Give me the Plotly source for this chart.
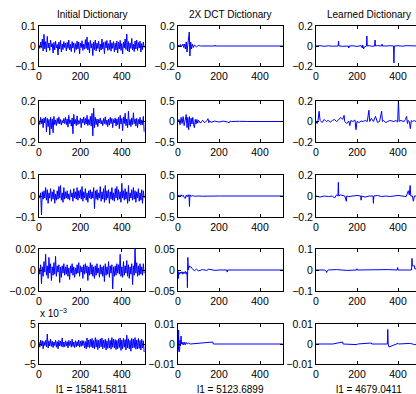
import plotly.graph_objects as go

# ---------------- data ----------------
col_titles = ["Initial Dictionary", "2X DCT Dictionary", "Learned Dictionary"]
l1_labels = ["l1 = 15841.5811", "l1 = 5123.6899", "l1 = 4679.0411"]
x_ticks = [0, 200, 400]
x_max = 512

# y half-ranges per row (col1, col2, col3)
y_lims = [
    [0.1, 0.2, 0.2],
    [0.2, 0.5, 0.2],
    [0.1, 0.5, 0.2],
    [0.02, 0.05, 0.1],
    [5, 0.01, 0.01],
]

# Initial dictionary atoms, sampled every 4 samples (x = 0, 4, ..., 508)
init_x = list(range(0, 512, 4))
init_r1 = [.005,-.012,.020,-.008,.035,-.025,.058,-.015,.022,-.030,.048,-.010,.015,-.022,.030,-.005,
           .012,-.035,.018,-.020,.025,-.010,.008,-.045,.020,-.015,.028,-.030,.010,-.018,.022,-.008,
           .015,-.025,.018,-.012,.030,-.020,.008,-.028,.022,-.010,.016,-.032,.012,-.018,.025,-.014,
           .020,-.040,.014,-.008,.026,-.022,.010,-.016,.032,-.012,.045,-.020,.018,-.035,.028,-.010,
           .012,-.048,.020,-.018,.030,-.025,.015,-.012,.024,-.030,.010,-.020,.035,-.015,.018,-.038,
           .022,-.010,.028,-.022,.012,-.018,.030,-.026,.016,-.012,.022,-.030,.014,-.020,.025,-.035,
           .018,-.015,.028,-.022,.012,-.040,.020,-.010,.035,-.018,.060,-.025,.022,-.030,.015,-.012,
           .038,-.020,.010,-.028,.025,-.015,.030,-.022,.018,-.010,.024,-.030,.012,-.018,.020,-.008]
init_r2 = [.010,-.030,.040,-.020,.025,-.060,.035,-.015,.045,-.100,.030,-.050,.020,-.130,.040,-.070,
           .025,-.110,.050,-.030,.015,-.040,.030,-.020,.045,-.025,.020,-.035,.010,-.015,.030,-.020,
           .040,-.030,.025,-.055,.060,-.020,.015,-.045,.035,-.120,.070,-.025,.020,-.040,.055,-.030,
           .010,-.020,.035,-.060,.025,-.015,.045,-.035,.030,-.025,.060,-.040,.020,-.030,.050,-.045,
           .080,-.140,.130,-.060,.040,-.030,.025,-.050,.020,-.015,.035,-.025,.010,-.040,.030,-.020,
           .045,-.030,.015,-.050,.025,-.035,.040,-.020,.030,-.060,.020,-.015,.035,-.045,.025,-.030,
           .040,-.070,.060,-.025,.030,-.090,.045,-.020,.080,-.040,.025,-.060,.100,-.035,.020,-.050,
           .035,-.030,.085,-.020,.025,-.045,.030,-.060,.020,-.025,.040,-.035,.015,-.030,.050,-.100]
init_r3 = [.005,-.010,.015,-.090,.020,-.015,.025,-.010,.040,-.020,.030,-.035,.015,-.010,.035,-.025,
           .020,-.015,.030,-.035,.010,-.020,.025,-.015,.045,-.010,.050,-.020,.015,-.030,.040,-.015,
           .020,-.010,.025,-.015,.010,-.020,.030,-.005,.015,-.025,.035,-.010,.020,-.015,.040,-.020,
           .025,-.010,.030,-.015,.045,-.025,.020,-.010,.035,-.020,.015,-.030,.025,-.010,.030,-.015,
           .020,-.010,.040,-.060,.025,-.015,.030,-.020,.015,-.010,.045,-.025,.020,-.015,.035,-.030,
           .050,-.020,.025,-.010,.030,-.035,.020,-.015,.040,-.020,.015,-.025,.035,-.010,.045,-.020,
           .030,-.015,.020,-.030,.060,-.010,.025,-.020,.035,-.015,.020,-.035,.050,-.025,.015,-.010,
           .030,-.020,.040,-.015,.025,-.030,.020,-.010,.035,-.025,.015,-.020,.030,-.035,.025,-.010]
init_r4 = [.0020,-.0040,.0050,-.0130,.0030,-.0060,.0080,-.0020,.0150,-.0050,.0040,-.0080,.0120,-.0030,.0060,-.0100,
           .0030,-.0050,.0070,-.0040,.0130,-.0060,.0040,-.0020,.0050,-.0120,.0030,-.0070,.0040,-.0030,.0060,-.0050,
           .0030,-.0040,.0050,-.0060,.0020,-.0090,.0040,-.0030,.0060,-.0050,.0030,-.0070,.0020,-.0040,.0050,-.0030,
           .0070,-.0060,.0040,-.0020,.0030,-.0080,.0050,-.0040,.0060,-.0030,.0040,-.0100,.0030,-.0050,.0070,-.0040,
           .0050,-.0060,.0030,-.0080,.0040,-.0050,.0060,-.0030,.0020,-.0070,.0050,-.0040,.0030,-.0060,.0040,-.0110,
           .0060,-.0050,.0030,-.0040,.0080,-.0070,.0040,-.0030,.0050,-.0180,.0030,-.0060,.0040,-.0050,.0060,-.0030,
           .0050,-.0040,.0150,-.0060,.0030,-.0070,.0080,-.0050,.0040,-.0030,.0090,-.0060,.0050,-.0080,.0030,-.0040,
           .0060,-.0140,.0040,-.0050,.0200,-.0030,.0070,-.0060,.0040,-.0050,.0060,-.0040,.0030,-.0050,.0060,-.0030]
# row 5, column 1 is shown in units of 1e-3
init_r5 = [0.5,-0.8,1.0,-0.5,0.8,-1.2,0.6,-0.4,0.9,-0.7,2.5,-1.0,0.8,-0.5,1.2,-0.6,
           0.7,-0.9,0.5,-0.4,1.0,-0.8,0.6,-1.2,0.9,-0.5,0.7,-0.6,1.5,-0.8,0.5,-0.7,
           0.8,-0.5,0.6,-1.0,0.9,-0.4,0.7,-0.8,1.2,-0.6,0.5,-0.9,0.8,-0.7,0.6,-0.5,
           1.0,-0.8,0.7,-0.6,0.9,-0.4,0.8,-1.0,0.6,-1.2,1.5,-0.8,1.0,-0.9,1.2,-0.7,
           1.4,-1.0,0.9,-1.2,1.6,-0.8,1.1,-1.4,0.9,-1.0,1.3,-0.7,1.5,-1.2,1.0,-0.9,
           1.2,-1.5,0.8,-1.1,1.4,-1.0,0.9,-1.3,1.6,-0.8,1.2,-1.0,1.1,-1.4,0.9,-1.2,
           1.3,-0.9,1.5,-1.6,1.0,-1.2,1.4,-0.8,1.1,-1.5,2.2,-1.0,1.3,-1.2,0.9,-1.8,
           1.4,-1.0,1.2,-0.9,1.6,-1.3,1.0,-1.2,1.4,-1.1,0.9,-1.5,1.2,-1.0,0.8,-2.0]

# 2X DCT dictionary atoms (sample index, value)
dct_r1_x = [0,4,8,12,16,20,24,28,32,36,40,44,48,52,55,58,62,66,70,75,80,90,100,110,178,180,182,511]
dct_r1_y = [0,.01,-.01,.015,-.01,.01,.02,-.015,.02,-.03,.04,-.06,.03,.05,.14,-.10,.04,-.03,.02,-.015,.01,-.008,.005,0,0,.01,0,0]
dct_r2_x = [0,5,10,15,20,25,30,35,40,44,48,52,56,60,64,68,72,76,80,84,88,92,96,100,110,120,130,140,146,150,154,160,180,200,220,240,250,254,260,300,330,334,340,511]
dct_r2_y = [0,.05,-.08,.1,-.05,.12,-.1,.08,.17,-.15,.1,-.2,.12,-.12,.08,-.06,.1,-.08,-.15,.05,-.06,.05,-.04,.03,-.04,.03,-.03,.02,.07,-.03,.02,-.02,.01,-.015,.01,-.01,-.03,.01,0,.005,-.01,0,0,0]
dct_r3_x = [0,5,10,15,20,25,30,35,40,45,50,54,56,58,62,70,80,100,102,120,200,202,511]
dct_r3_y = [0,.02,-.02,.03,-.01,.02,-.03,-.06,.02,-.02,.03,-.03,-.25,.03,-.01,.01,-.005,.01,0,-.005,-.01,0,0]
dct_r4_x = [0,2,4,8,12,16,20,24,28,32,36,40,44,46,48,50,54,58,62,66,70,80,90,100,120,140,150,180,200,238,240,242,300,511]
dct_r4_y = [0,-.02,-.005,-.01,-.005,-.008,-.004,-.01,-.005,-.008,-.003,-.01,-.005,-.042,.03,0,.01,.006,.008,.004,.003,-.002,.002,-.002,.001,-.001,.002,-.001,0,0,-.005,0,0,0]
dct_r5_x = [0,2,3,5,8,10,12,15,17,20,25,30,35,40,45,50,60,170,172,511]
dct_r5_y = [0,-.003,.007,-.004,-.003,.002,-.001,.004,0,.001,-.0005,.001,-.0005,.0008,0,.0005,0,.001,0,0]

# Learned dictionary atoms (sample index, value)
lrn_r1_x = [0,20,40,60,80,100,108,110,112,130,150,158,160,162,180,200,220,226,228,232,236,240,246,248,250,260,270,286,288,290,300,320,322,324,340,342,360,378,380,382,400,420,440,460,480,500,511]
lrn_r1_y = [0,.003,-.003,.002,-.002,.003,0,.05,0,-.003,.002,0,-.02,0,.002,-.004,.003,-.02,.01,-.03,-.01,-.005,0,.10,0,.004,-.003,0,.06,0,.004,0,.02,0,-.006,0,.003,0,-.17,0,.003,-.002,.003,.002,-.003,.002,0]
lrn_r2_x = [0,5,10,15,20,30,40,50,60,70,80,90,100,110,120,130,137,140,150,160,165,170,180,190,195,200,210,220,230,240,250,258,262,270,280,290,300,310,320,324,330,340,350,360,370,380,390,398,402,406,410,420,430,436,442,446,450,455,460,465,470,480,490,500,511]
lrn_r2_y = [0,-.02,.01,.1,.01,-.01,.02,0,.01,-.005,.01,.02,0,.015,.04,.02,.06,0,-.02,.005,-.04,.01,0,.015,-.08,0,-.01,.005,0,.01,0,.11,0,.03,0,.05,-.01,0,.1,0,.01,-.01,0,.01,.005,0,.01,-.005,.2,0,.01,.005,0,.02,.05,-.02,.01,0,-.07,.01,0,.01,-.005,.005,0]
lrn_r3_x = [0,20,40,60,80,90,100,107,109,111,120,140,148,150,160,180,200,218,220,222,240,260,278,280,282,300,320,340,360,380,400,420,440,450,455,459,462,470,475,480,500,511]
lrn_r3_y = [0,-.01,0,-.005,0,-.02,.01,0,.13,0,.01,0,-.05,0,-.005,0,.005,0,-.04,0,-.01,0,0,-.07,0,.005,-.005,0,-.005,0,.005,0,-.005,.05,.01,.1,0,0,-.05,0,.005,0]
lrn_r4_x = [0,40,50,52,54,60,100,150,198,200,202,250,300,350,396,398,400,440,460,466,468,470,480,482,490,500,511]
lrn_r4_y = [0,0,-.005,-.012,-.005,0,.002,-.002,0,.006,0,.001,-.001,.002,0,.012,0,-.002,0,0,.055,.02,.02,.005,.005,.005,.005]
lrn_r5_x = [0,80,82,130,132,200,202,270,272,348,350,352,356,400,402,460,480,511]
lrn_r5_y = [0,-.0003,0,.001,0,-.0003,0,.0005,0,0,.0073,0,-.0015,.0003,0,.0003,-.0003,0]

series = [
    [(init_x, init_r1), (dct_r1_x, dct_r1_y), (lrn_r1_x, lrn_r1_y)],
    [(init_x, init_r2), (dct_r2_x, dct_r2_y), (lrn_r2_x, lrn_r2_y)],
    [(init_x, init_r3), (dct_r3_x, dct_r3_y), (lrn_r3_x, lrn_r3_y)],
    [(init_x, init_r4), (dct_r4_x, dct_r4_y), (lrn_r4_x, lrn_r4_y)],
    [(init_x, init_r5), (dct_r5_x, dct_r5_y), (lrn_r5_x, lrn_r5_y)],
]

# ---------------- layout ----------------
W, H = 416, 394
PX_PER_UNIT = 105 / x_max           # axis width in the original figure
col_px = [(39, 145), (178, 283), (316, 416)]   # third column is cut by the window edge
col_centers = [92, 230.5, 368.5]
row_px = [(26, 66), (101, 142), (175, 217), (249, 291), (324, 364)]
FONT = "Liberation Sans, Arial, sans-serif"

fig = go.Figure()
layout = {}
n = 0
for r in range(5):
    for c in range(3):
        n += 1
        xs, ys = series[r][c]
        xa = "x" if n == 1 else f"x{n}"
        ya = "y" if n == 1 else f"y{n}"
        fig.add_trace(go.Scatter(x=xs, y=ys, mode="lines", xaxis=xa, yaxis=ya,
                                 line=dict(color="#0000ff", width=1), showlegend=False,
                                 hoverinfo="skip"))
        lim = y_lims[r][c]
        common = dict(showgrid=False, zeroline=False, showline=True, linecolor="black",
                      linewidth=1, ticks="inside", ticklen=3, automargin=False,
                      tickcolor="black", tickfont=dict(family=FONT, size=10.5, color="black"))
        xmax_vis = x_max if c < 2 else (col_px[c][1] - col_px[c][0]) / PX_PER_UNIT
        layout["xaxis" if n == 1 else f"xaxis{n}"] = dict(
            domain=[col_px[c][0] / W, col_px[c][1] / W], range=[0, xmax_vis],
            tickvals=x_ticks, anchor=ya, mirror="ticks", **common)
        layout["yaxis" if n == 1 else f"yaxis{n}"] = dict(
            domain=[1 - row_px[r][1] / H, 1 - row_px[r][0] / H], range=[-lim, lim],
            tickvals=[-lim, 0, lim], anchor=xa, mirror=("ticks" if c < 2 else False), **common)

annotations = []
for c in range(3):
    cx = col_centers[c] / W
    annotations.append(dict(text=col_titles[c], x=cx, y=1 - 14.5 / H, xref="paper", yref="paper",
                            xanchor="center", yanchor="middle", showarrow=False,
                            font=dict(family=FONT, size=10, color="black")))
    annotations.append(dict(text=l1_labels[c], x=cx, y=1 - 389 / H, xref="paper", yref="paper",
                            xanchor="center", yanchor="middle", showarrow=False,
                            font=dict(family=FONT, size=10, color="black")))
annotations.append(dict(text="x 10<sup>−3</sup>", x=38 / W, y=1 - 313 / H, xref="paper", yref="paper",
                        xanchor="left", yanchor="middle", showarrow=False,
                        font=dict(family=FONT, size=10, color="black")))

fig.update_layout(width=W, height=H, margin=dict(l=0, r=0, t=0, b=0, autoexpand=False),
                  paper_bgcolor="white", plot_bgcolor="white",
                  annotations=annotations, **layout)

fig.write_html("out.html")
